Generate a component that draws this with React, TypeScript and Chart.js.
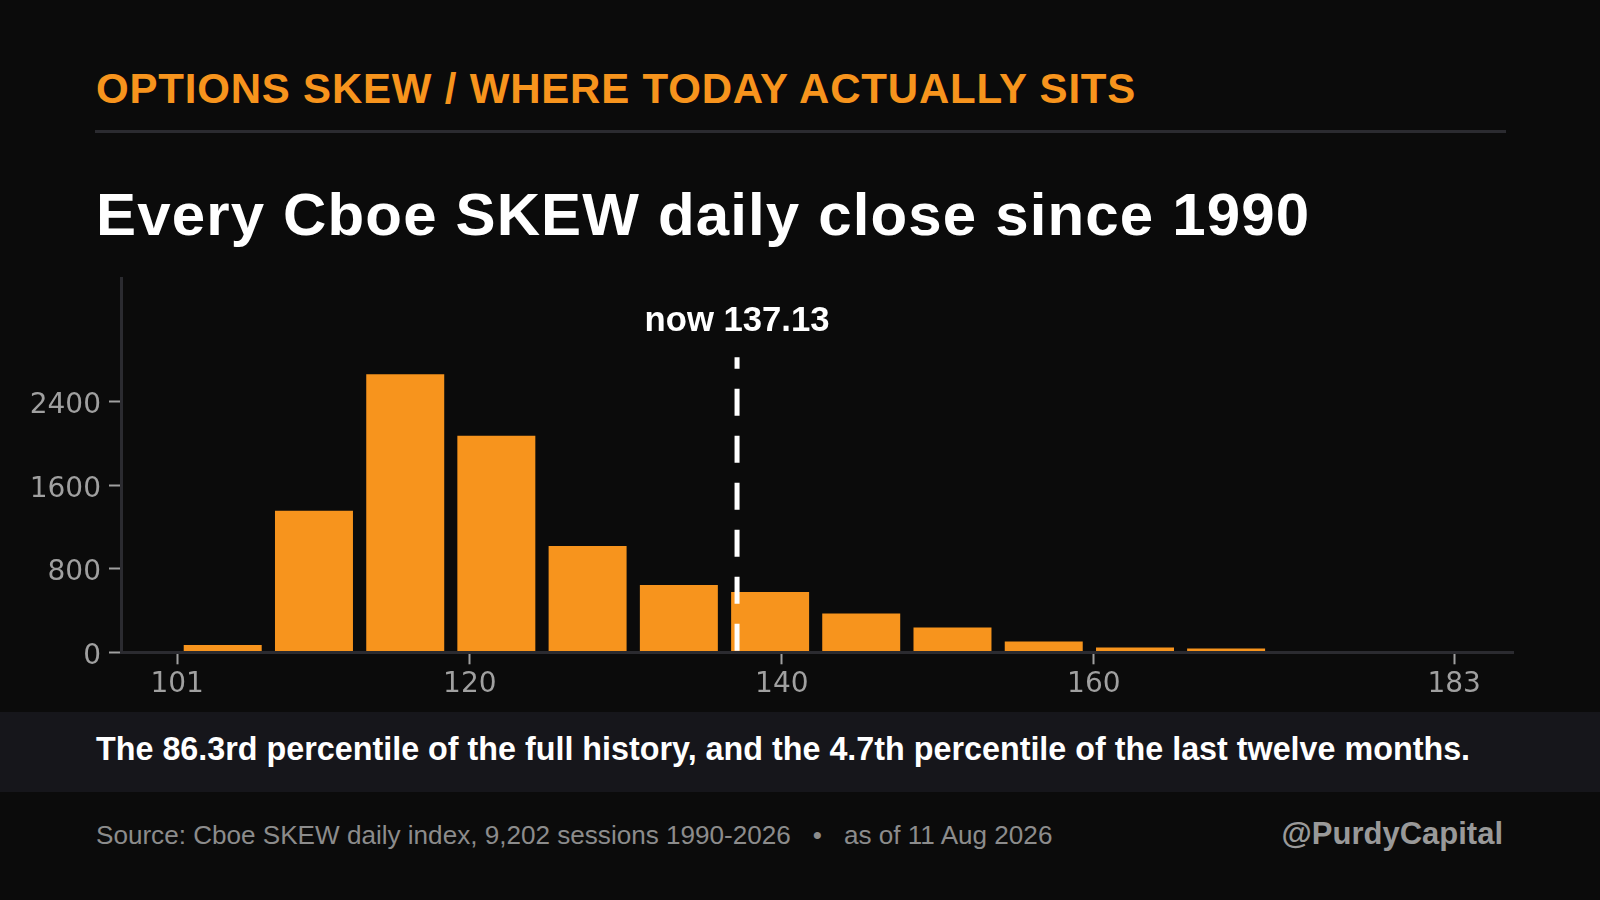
import { useEffect, useRef } from 'react'
import { Chart, registerables } from 'chart.js'
import type { Plugin } from 'chart.js'

Chart.register(...registerables)

// Histogram of every SKEW daily close: 14 equal bins from the min (~101.2) to the max (~183.1)
const binCenters = [104.16, 110.01, 115.86, 121.7, 127.55, 133.4, 139.25, 145.09, 150.94, 156.79, 162.64, 168.48, 174.33, 180.18]
const sessionCounts = [70, 1355, 2663, 2073, 1018, 644, 577, 372, 238, 104, 46, 37, 3, 2]
// outer ticks sit on the data min / max and are shown rounded
const xTickValues = [101.24, 120, 140, 160, 183.1]
const yTickValues = [0, 800, 1600, 2400]
const nowValue = 137.13
const nowLabel = 'now 137.13'

const ORANGE = '#F7941D'
const BG = '#0b0b0b'
const AXIS = '#2b2b30'
const TICK_GREY = '#a0a0a0'
const SANS = "'Liberation Sans', Arial, sans-serif"

const nowMarker: Plugin<'bar'> = {
  id: 'nowMarker',
  afterDatasetsDraw(chart) {
    const { ctx, chartArea, scales } = chart
    const x = scales.x.getPixelForValue(nowValue)
    const bottom = scales.y.getPixelForValue(0) - 1.5
    const top = chartArea.top + 79
    ctx.save()
    ctx.strokeStyle = '#ffffff'
    ctx.lineWidth = 5
    ctx.setLineDash([27, 20])
    ctx.beginPath()
    ctx.moveTo(x, bottom)
    ctx.lineTo(x, top)
    ctx.stroke()
    ctx.setLineDash([])
    ctx.fillStyle = '#ffffff'
    ctx.font = `bold 34.7px ${SANS}`
    ctx.textAlign = 'center'
    ctx.textBaseline = 'alphabetic'
    ctx.fillText(nowLabel, x, chartArea.top + 53)
    ctx.restore()
  }
}

function SkewHistogram() {
  const canvasRef = useRef<HTMLCanvasElement>(null)
  const chartRef = useRef<Chart | null>(null)

  useEffect(() => {
    if (!canvasRef.current) return
    const ctx = canvasRef.current.getContext('2d')
    if (!ctx) return

    chartRef.current = new Chart(ctx, {
      type: 'bar',
      data: {
        datasets: [{
          data: binCenters.map((x, i) => ({ x, y: sessionCounts[i] })),
          backgroundColor: ORANGE,
          borderWidth: 0,
          barPercentage: 0.856,
          categoryPercentage: 1
        }]
      },
      options: {
        animation: false,
        responsive: true,
        maintainAspectRatio: false,
        layout: { padding: { top: 8.3, right: 87, left: 0, bottom: 0 } },
        plugins: { legend: { display: false }, tooltip: { enabled: false } },
        scales: {
          x: {
            type: 'linear',
            min: 97.64,
            max: 186.87,
            offset: false,
            afterBuildTicks: (axis) => { axis.ticks = xTickValues.map(value => ({ value })) },
            afterFit: (axis) => {
              axis.height = 47.7
              axis.paddingLeft = 0
              axis.paddingRight = 0
            },
            ticks: {
              color: TICK_GREY,
              font: { family: 'DejaVu Sans', size: 28 },
              padding: 4,
              maxRotation: 0,
              autoSkip: false,
              callback: (value) => String(Math.round(Number(value)))
            },
            grid: { offset: false, drawOnChartArea: false, drawTicks: true, tickLength: 12, tickWidth: 2, tickColor: TICK_GREY },
            border: { color: AXIS, width: 3, z: 1 }
          },
          y: {
            min: 0,
            max: 3582,
            afterBuildTicks: (axis) => { axis.ticks = yTickValues.map(value => ({ value })) },
            afterFit: (axis) => {
              axis.width = 121
              axis.paddingTop = 0
              axis.paddingBottom = 0
            },
            ticks: {
              color: TICK_GREY,
              font: { family: 'DejaVu Sans', size: 28 },
              padding: 8,
              labelOffset: 4,
              callback: (value) => String(value)
            },
            grid: { drawOnChartArea: false, drawTicks: true, tickLength: 12, tickWidth: 2, tickColor: TICK_GREY },
            border: { color: AXIS, width: 3, z: 1 }
          }
        }
      },
      plugins: [nowMarker]
    })

    return () => {
      if (chartRef.current) {
        chartRef.current.destroy()
        chartRef.current = null
      }
    }
  }, [])

  return (
    <div style={{ position: 'absolute', left: 0, top: 270, width: 1600, height: 430 }}>
      <canvas ref={canvasRef}></canvas>
    </div>
  )
}

export default function App() {
  useEffect(() => {
    document.body.style.margin = '0'
    document.body.style.background = BG
  }, [])

  const textBase = { position: 'absolute' as const, margin: 0, whiteSpace: 'nowrap' as const, fontFamily: SANS }

  return (
    <div style={{ position: 'absolute', left: 0, top: 0, width: 1600, height: 900, background: BG, overflow: 'hidden' }}>
      {/* Eyebrow + rule */}
      <div style={{ ...textBase, left: 96, top: 67.7, fontSize: 42, lineHeight: '42px', fontWeight: 700, color: ORANGE, letterSpacing: '0.8px' }}>
        OPTIONS SKEW / WHERE TODAY ACTUALLY SITS
      </div>
      <div style={{ position: 'absolute', left: 95, top: 129.5, width: 1411, height: 3, background: AXIS }}></div>

      {/* Headline */}
      <div style={{ ...textBase, left: 96, top: 185.2, fontSize: 60, lineHeight: '60px', fontWeight: 700, color: '#ffffff', letterSpacing: '1.15px' }}>
        Every Cboe SKEW daily close since 1990
      </div>

      <SkewHistogram />

      {/* Takeaway band */}
      <div style={{ position: 'absolute', left: 0, top: 712, width: 1600, height: 80, background: '#16161b' }}></div>
      <div style={{ ...textBase, left: 96, top: 732.7, fontSize: 32.3, lineHeight: '32.3px', fontWeight: 700, color: '#ffffff' }}>
        The 86.3rd percentile of the full history, and the 4.7th percentile of the last twelve months.
      </div>

      {/* Footer */}
      <div style={{ ...textBase, left: 96, top: 822, fontSize: 26.1, lineHeight: '26.1px', color: '#8c8c8c' }}>
        Source: Cboe SKEW daily index, 9,202 sessions 1990-2026<span style={{ margin: '0 22px' }}>•</span>as of 11 Aug 2026
      </div>
      <div style={{ ...textBase, right: 97, top: 818, fontSize: 31, lineHeight: '31px', fontWeight: 700, color: '#999999' }}>
        @PurdyCapital
      </div>
    </div>
  )
}
